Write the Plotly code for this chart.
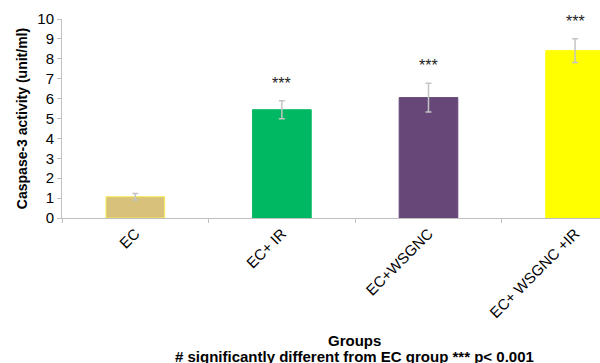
import plotly.graph_objects as go

# Caspase-3 activity per experimental group (mean ± SD)
groups = ["EC", "EC+ IR", "EC+WSGNC", "EC+ WSGNC +IR"]
caspase3 = [1.07, 5.44, 6.05, 8.41]
sd = [0.16, 0.45, 0.72, 0.60]
significance = ["", "***", "***", "***"]
bar_colors = ["#D8C17A", "#00B862", "#664778", "#FFFF00"]
edge_colors = ["#F5EE55", "#00B862", "#664778", "#FFFF00"]
y_ticks = list(range(0, 11))

FONT = "Liberation Sans, Arial, sans-serif"

fig = go.Figure()
fig.add_trace(go.Bar(
    x=groups,
    y=caspase3,
    width=0.4,
    marker=dict(color=bar_colors, line=dict(color=edge_colors, width=1)),
    error_y=dict(type="data", array=sd, visible=True,
                 color="#C4C4C4", thickness=1.5, width=3),
    showlegend=False,
))

# significance stars above each error bar
for g, v, e, s in zip(groups, caspase3, sd, significance):
    if s:
        fig.add_annotation(x=g, y=v + e, text=s, showarrow=False,
                           yanchor="bottom", yshift=7,
                           font=dict(family=FONT, size=16, color="#222222"))

fig.add_annotation(xref="paper", yref="paper", x=0.543, y=-0.6175,
                   text="<b>Groups</b>", showarrow=False,
                   xanchor="center", yanchor="middle",
                   font=dict(family=FONT, size=15, color="#000000"))
fig.add_annotation(xref="paper", yref="paper", x=0.543, y=-0.698,
                   text="<b># significantly different from EC group *** p< 0.001</b>",
                   showarrow=False, xanchor="center", yanchor="middle",
                   font=dict(family=FONT, size=15, color="#000000"))

fig.update_layout(
    width=600, height=363,
    margin=dict(l=62, r=0, t=19, b=145),
    plot_bgcolor="white", paper_bgcolor="white",
    font=dict(family=FONT, color="#000000"),
    bargap=0.6,
)
fig.update_xaxes(
    type="category",
    range=[-0.5, 3.17],
    showline=True, linecolor="#BFBFBF", linewidth=1,
    ticks="outside", tickson="boundaries", ticklen=4, tickcolor="#BFBFBF",
    tickangle=-45,
    tickfont=dict(family=FONT, size=15, color="#000000"),
    showgrid=False,
)
fig.update_yaxes(
    range=[0, 10],
    tickvals=y_ticks,
    showline=True, linecolor="#BFBFBF", linewidth=1,
    ticks="outside", ticklen=4, tickcolor="#BFBFBF",
    tickfont=dict(family=FONT, size=15, color="#000000"),
    showgrid=False, zeroline=False,
    title=dict(text="<b>Caspase-3 activity (unit/ml)</b>",
               font=dict(family=FONT, size=14, color="#000000"),
               standoff=6),
)

fig.write_html("out.html")
